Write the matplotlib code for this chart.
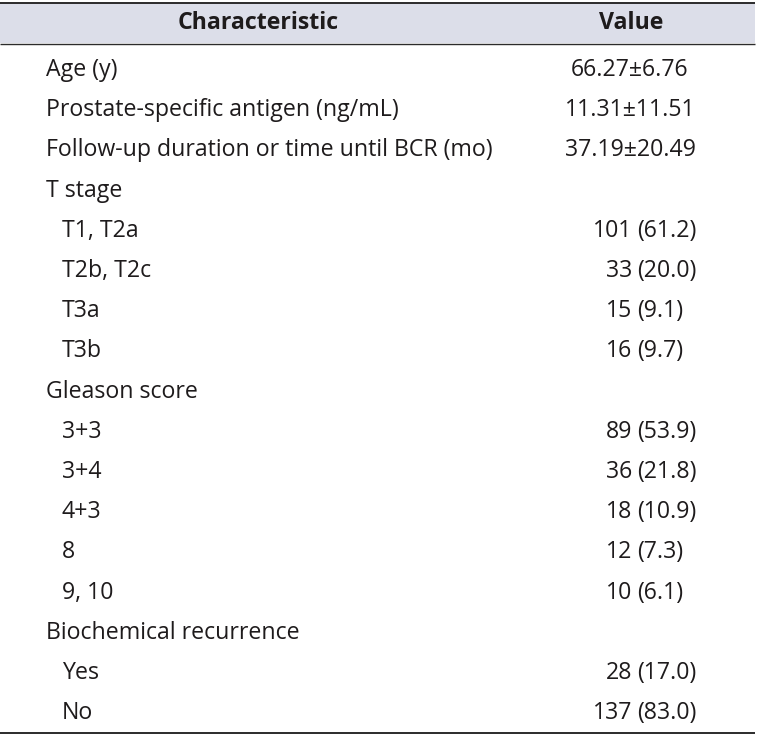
import matplotlib
matplotlib.use('Agg')
import matplotlib.pyplot as plt
from matplotlib.patches import Rectangle

# table content
characteristics = ['Age (y)', 'Prostate-specific antigen (ng/mL)',
                   'Follow-up duration or time until BCR (mo)', 'T stage',
                   'T1, T2a', 'T2b, T2c', 'T3a', 'T3b', 'Gleason score',
                   '3+3', '3+4', '4+3', '8', '9, 10',
                   'Biochemical recurrence', 'Yes', 'No']
indented = [0, 0, 0, 0, 1, 1, 1, 1, 0, 1, 1, 1, 1, 1, 0, 1, 1]

# mean +- sd rows (first three)
means = ['66.27', '11.31', '37.19']
sds = ['6.76', '11.51', '20.49']

# n (%) rows, None for group headings
counts = [None, None, None, None, 101, 33, 15, 16, None,
          89, 36, 18, 12, 10, None, 28, 137]
percents = [None, None, None, None, 61.2, 20.0, 9.1, 9.7, None,
            53.9, 21.8, 10.9, 7.3, 6.1, None, 17.0, 83.0]

W, H = 759, 737
fig = plt.figure(figsize=(W / 100, H / 100), dpi=100)
ax = fig.add_axes([0, 0, 1, 1])
ax.set_xlim(0, W)
ax.set_ylim(H, 0)
ax.axis('off')

txtcol = '#1e1b1c'
fnt = 'Open Sans'
fs = 16.7

# header
ax.add_patch(Rectangle((0, 3), 755, 40, facecolor='#dcdee9', edgecolor='none'))
ax.plot([0, 755], [3, 3], color='#2b2b2b', lw=1.4, solid_capstyle='butt')
ax.plot([0, 755], [43.5, 43.5], color='#2b2b2b', lw=1.0, solid_capstyle='butt')
ax.text(258, 23, 'Characteristic', ha='center', va='center', fontsize=fs,
        fontweight='bold', family=fnt, color=txtcol)
ax.text(631, 23, 'Value', ha='center', va='center', fontsize=fs,
        fontweight='bold', family=fnt, color=txtcol)

y0 = 70
dy = 40.2
for i, lab in enumerate(characteristics):
    y = y0 + i * dy
    x = 62 if indented[i] else 46
    ax.text(x, y, lab, ha='left', va='center', fontsize=fs, family=fnt, color=txtcol)
    if i < len(means):
        ax.text(630, y, means[i] + '±' + sds[i], ha='center', va='center',
                fontsize=fs, family=fnt, color=txtcol)
    elif counts[i] is not None:
        ax.text(632, y, str(counts[i]), ha='right', va='center',
                fontsize=fs, family=fnt, color=txtcol)
        ax.text(637, y, '(%.1f)' % percents[i], ha='left', va='center',
                fontsize=fs, family=fnt, color=txtcol)

# bottom rule
ax.plot([0, 755], [733, 733], color='#2b2b2b', lw=1.4, solid_capstyle='butt')

fig.savefig('out.png', dpi=100)
